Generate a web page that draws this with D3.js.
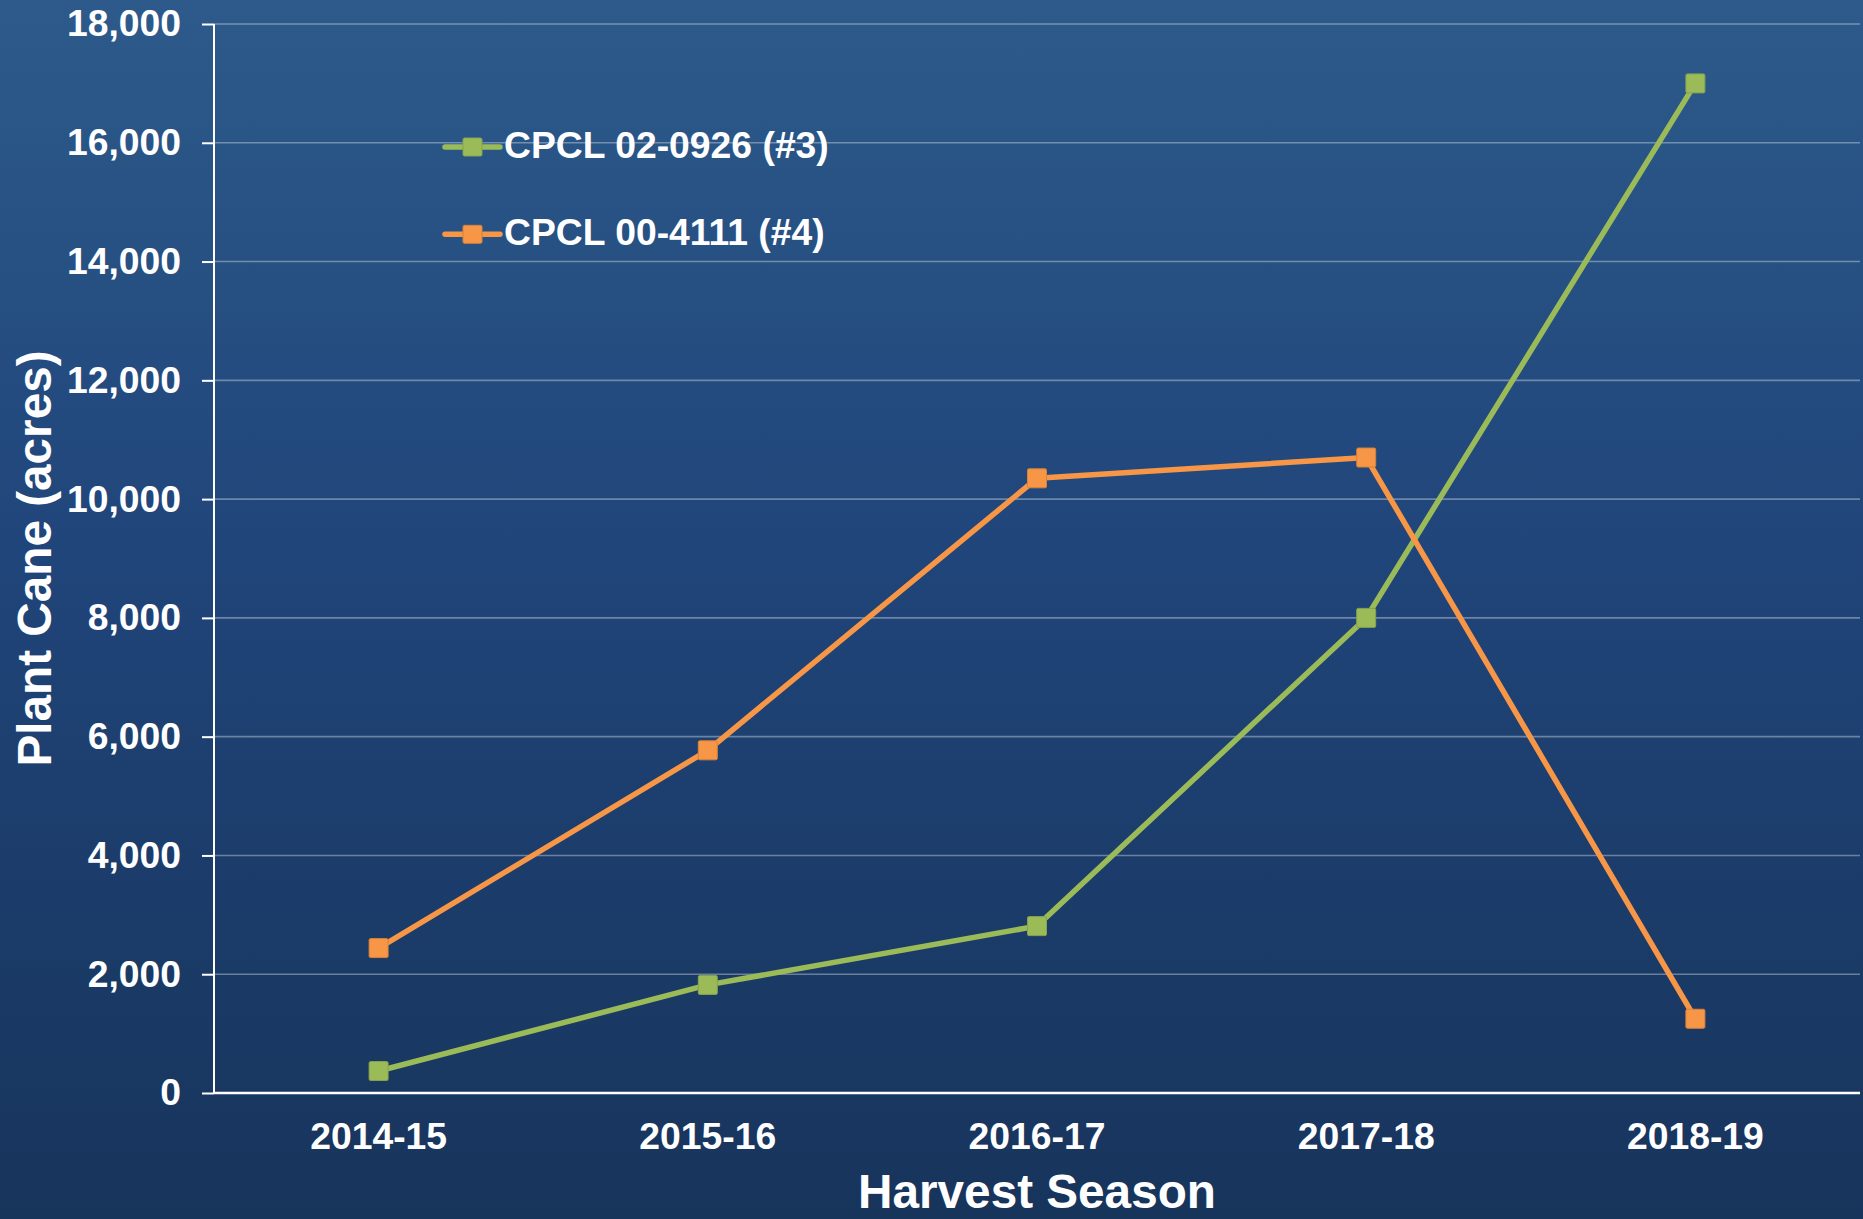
<!DOCTYPE html>
<html>
<head>
<meta charset="utf-8">
<script src="https://cdn.jsdelivr.net/npm/d3@7"></script>
<style>
  html, body { margin: 0; padding: 0; background: #1b3a63; }
  svg { display: block; font-family: "Liberation Sans", Arial, sans-serif; }
</style>
</head>
<body>
<div id="chart"></div>
<script>
const width = 1863;
const height = 1219;

// data
const seasons = ["2014-15", "2015-16", "2016-17", "2017-18", "2018-19"];
const cpcl0926 = [370, 1820, 2810, 8000, 17000];
const cpcl4111 = [2440, 5770, 10350, 10700, 1250];
const seriesNames = ["CPCL 02-0926 (#3)", "CPCL 00-4111 (#4)"];
const seriesColors = ["#9bbb59", "#f79646"];
const yTicks = [0, 2000, 4000, 6000, 8000, 10000, 12000, 14000, 16000, 18000];

const margin = { top: 24, right: 3, bottom: 126, left: 214 };

const svg = d3.select("#chart")
    .append("svg")
    .attr("width", width)
    .attr("height", height);

// background gradient
const defs = svg.append("defs");
const bg = defs.append("linearGradient")
    .attr("id", "bg-grad")
    .attr("x1", 0).attr("y1", 0).attr("x2", 0).attr("y2", 1);
bg.append("stop").attr("offset", "0%").attr("stop-color", "#2d5a8b");
bg.append("stop").attr("offset", "45%").attr("stop-color", "#20457a");
bg.append("stop").attr("offset", "100%").attr("stop-color", "#17345b");

svg.append("rect")
    .attr("width", width)
    .attr("height", height)
    .attr("fill", "url(#bg-grad)");

const x = d3.scaleBand()
    .domain(seasons)
    .range([margin.left, width - margin.right]);

const y = d3.scaleLinear()
    .domain([0, 18000])
    .range([height - margin.bottom, margin.top]);

// gridlines
svg.append("g")
    .selectAll("line")
    .data(yTicks.filter(d => d > 0))
    .enter()
    .append("line")
    .attr("x1", margin.left)
    .attr("x2", width - margin.right)
    .attr("y1", d => y(d))
    .attr("y2", d => y(d))
    .attr("stroke", "rgba(255,255,255,0.35)")
    .attr("stroke-width", 1.6);

// y axis
const yAxis = svg.append("g")
    .attr("transform", `translate(${margin.left},0)`)
    .call(d3.axisLeft(y)
        .tickValues(yTicks)
        .tickSize(12)
        .tickPadding(21)
        .tickFormat(d3.format(",")));

yAxis.select(".domain")
    .attr("stroke", "#fff")
    .attr("stroke-width", 2)
    .attr("d", `M0,${y(18000)}V${y(0)}`);
yAxis.selectAll(".tick line").attr("stroke", "#fff").attr("stroke-width", 2);
yAxis.selectAll(".tick text")
    .attr("fill", "#fff")
    .attr("font-size", "37.3px")
    .attr("font-weight", "bold")
    .attr("font-family", "Liberation Sans, Arial, sans-serif");

// x axis
const xAxis = svg.append("g")
    .attr("transform", `translate(0,${y(0)})`)
    .call(d3.axisBottom(x).tickSize(0).tickPadding(30));

xAxis.select(".domain")
    .attr("stroke", "#fff")
    .attr("stroke-width", 2.5)
    .attr("d", `M${margin.left},0H${width - margin.right}`);
xAxis.selectAll(".tick text")
    .attr("fill", "#fff")
    .attr("font-size", "37.3px")
    .attr("font-weight", "bold")
    .attr("font-family", "Liberation Sans, Arial, sans-serif");

// axis titles
svg.append("text")
    .attr("x", (margin.left + width - margin.right) / 2)
    .attr("y", 1208)
    .attr("text-anchor", "middle")
    .attr("fill", "#fff")
    .attr("font-size", "47.7px")
    .attr("font-weight", "bold")
    .text("Harvest Season");

svg.append("text")
    .attr("transform", `translate(51,${(y(0) + y(18000)) / 2}) rotate(-90)`)
    .attr("text-anchor", "middle")
    .attr("fill", "#fff")
    .attr("font-size", "47.7px")
    .attr("font-weight", "bold")
    .text("Plant Cane (acres)");

// series
const series = [cpcl0926, cpcl4111];
const line = d3.line()
    .x((d, i) => x(seasons[i]) + x.bandwidth() / 2)
    .y(d => y(d));

series.forEach((values, s) => {
    svg.append("path")
        .datum(values)
        .attr("fill", "none")
        .attr("stroke", seriesColors[s])
        .attr("stroke-width", 5.5)
        .attr("stroke-linejoin", "round")
        .attr("d", line);

    svg.append("g")
        .selectAll("rect")
        .data(values)
        .enter()
        .append("rect")
        .attr("x", (d, i) => x(seasons[i]) + x.bandwidth() / 2 - 9.5)
        .attr("y", d => y(d) - 9.5)
        .attr("width", 19)
        .attr("height", 19)
        .attr("rx", 1.5)
        .attr("fill", seriesColors[s])
        .attr("stroke", d3.color(seriesColors[s]).darker(0.4))
        .attr("stroke-width", 1);
});

// legend
const legend = svg.append("g").attr("transform", "translate(445,147)");
seriesNames.forEach((name, i) => {
    const row = legend.append("g").attr("transform", `translate(0,${i * 87.3})`);
    row.append("line")
        .attr("x1", 0).attr("x2", 55)
        .attr("stroke", seriesColors[i])
        .attr("stroke-width", 5.5)
        .attr("stroke-linecap", "round");
    row.append("rect")
        .attr("x", 18).attr("y", -9)
        .attr("width", 19).attr("height", 18)
        .attr("rx", 1.5)
        .attr("fill", seriesColors[i])
        .attr("stroke", d3.color(seriesColors[i]).darker(0.4))
        .attr("stroke-width", 1);
    row.append("text")
        .attr("x", 59)
        .attr("y", 11)
        .attr("fill", "#fff")
        .attr("font-size", "37.3px")
        .attr("font-weight", "bold")
        .text(name);
});
</script>
</body>
</html>
